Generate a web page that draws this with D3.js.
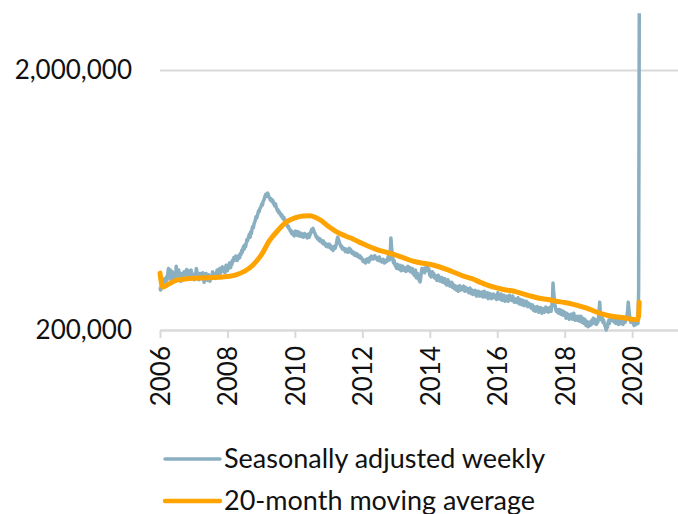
<!DOCTYPE html>
<html>
<head>
<meta charset="utf-8">
<script src="https://cdn.jsdelivr.net/npm/d3@7"></script>
<style>
body { margin: 0; background: #fff; }
svg text { font-family: Lato, "Open Sans", sans-serif; fill: #111; }
</style>
</head>
<body>
<div id="chart"></div>
<script>
// weekly initial claims, seasonally adjusted (thousands), one array per year
var claims2006 = [292,285,298,290,305,300,296,315,310,302,320,312,330,345,318,322,340,312,326,335,318,310,325,330,315,352,320,312,328,340,322,316,308,330,318,325,312,335,320,318,328,342,330,322,338,326,318,332,340,324,315,322];
var claims2007 = [318,312,330,325,345,335,320,326,312,318,330,322,315,328,332,318,305,315,322,330,312,318,310,326,318,308,315,322,316,335,325,318,330,322,316,326,340,332,328,338,345,330,342,336,350,338,346,340,332,348,355,340];
var claims2008 = [338,350,345,362,356,348,365,358,372,368,380,376,372,385,378,370,382,376,388,380,395,390,405,398,412,420,410,425,418,432,445,440,452,460,468,455,478,470,490,500,495,512,520,530,545,538,550,562,575,570,585,592];
var claims2009 = [598,610,605,625,630,642,655,665,652,660,672,664,650,645,632,640,628,622,630,615,608,600,612,598,585,575,580,565,570,558,560,548,555,540,535,542,528,530,520,515,505,498,502,490,488,480,482,470,478,465,472,460];
var claims2010 = [468,480,472,470,462,478,470,460,465,472,458,462,468,455,460,470,462,458,465,452,460,468,455,462,470,480,488,478,492,484,475,470,462,455,458,448,452,445,440,448,438,442,436,430,440,428,432,425,420,428,418,422];
var claims2011 = [420,428,415,422,410,418,412,405,415,420,412,418,430,445,455,448,440,432,425,418,420,410,415,408,412,405,400,410,402,408,398,405,412,400,408,402,395,400,392,398,388,395,390,385,392,384,388,380,386,378,382,375];
var claims2012 = [375,368,372,365,370,362,368,375,370,372,365,378,372,380,385,378,382,375,380,386,378,382,376,372,378,370,382,376,368,372,365,370,374,368,362,370,365,372,368,375,385,378,372,392,452,418,395,375,362,370,358,352];
var claims2013 = [352,345,358,348,350,342,355,345,338,348,352,345,340,348,342,336,345,338,352,345,340,348,335,342,338,345,330,338,325,332,340,318,322,330,315,325,310,306,318,335,345,340,338,345,332,340,348,342,352,338,345,340];
var claims2014 = [325,332,320,328,335,322,330,318,325,315,322,310,318,325,312,320,308,315,312,318,305,312,308,315,302,310,298,305,312,300,306,295,302,298,305,292,300,295,288,296,290,285,294,288,282,290,296,288,285,292,286,290];
var claims2015 = [295,288,282,292,285,290,282,288,278,286,290,282,276,285,280,274,282,278,284,276,270,280,274,282,276,270,278,272,280,274,268,276,282,272,268,276,270,278,264,272,268,276,270,264,272,268,275,270,266,272,268,262];
var claims2016 = [272,278,268,264,270,262,275,268,260,266,272,264,258,266,262,270,264,258,266,272,262,268,260,266,270,262,256,264,258,262,255,260,266,256,252,258,262,254,250,256,260,252,248,255,250,258,252,246,254,248,252,245];
var claims2017 = [248,242,250,244,238,246,242,236,244,240,246,238,234,242,236,244,238,232,240,236,242,234,238,245,240,236,242,234,238,244,240,236,246,258,303,280,262,250,242,236,240,234,238,232,240,236,230,238,234,228,236,232];
var claims2018 = [234,228,222,232,226,230,224,220,228,222,230,226,220,228,232,222,218,226,220,224,218,226,222,216,220,226,218,214,222,216,212,220,214,208,216,210,206,214,212,208,215,210,218,214,222,216,212,220,216,210,218,214];
var claims2019 = [220,236,256,232,225,218,222,214,218,212,208,205,200,210,205,214,218,212,220,226,222,218,224,216,220,214,218,212,216,220,214,210,218,222,216,212,218,214,210,216,220,214,218,224,228,236,256,240,226,220,214,216];
var claims2020 = [214,218,212,208,216,212,210,214,218,212,282,3307];

var weeklyYears = [2006,2007,2008,2009,2010,2011,2012,2013,2014,2015,2016,2017,2018,2019,2020];
var weeklyByYear = [claims2006,claims2007,claims2008,claims2009,claims2010,claims2011,claims2012,claims2013,claims2014,claims2015,claims2016,claims2017,claims2018,claims2019,claims2020];

// 20-month moving average (decimal year, thousands)
var maYears  = [2006.0,2006.08,2006.25,2006.5,2006.75,2007.0,2007.25,2007.5,2007.75,2008.0,2008.25,2008.5,2008.75,2009.0,2009.25,2009.5,2009.75,2010.0,2010.25,2010.45,2010.6,2010.75,2011.0,2011.25,2011.5,2011.75,2012.0,2012.25,2012.5,2012.75,2013.0,2013.25,2013.5,2013.75,2014.0,2014.25,2014.5,2014.75,2015.0,2015.25,2015.5,2015.75,2016.0,2016.25,2016.5,2016.75,2017.0,2017.25,2017.5,2017.75,2018.0,2018.25,2018.5,2018.75,2019.0,2019.25,2019.5,2019.75,2020.0,2020.15,2020.19,2020.21];
var maValues = [331,293,300,311,314,316,317,318,319,321,326,336,355,388,442,484,520,540,549,550,543,530,500,476,460,446,430,416,405,397,388,378,368,362,358,351,342,332,322,315,305,296,290,285,282,276,270,265,262,258,255,251,246,240,233,228,225,223,220,219,226,256];

var xTicks = [2006,2008,2010,2012,2014,2016,2018,2020];
var yTicks = [200000, 2000000];

var legendLabels = ["Seasonally adjusted weekly", "20-month moving average"];
var coloreBlu = "#8aafc1";
var coloreArancio = "#ffa300";

var larghezza = 678;
var altezza = 514;

var x = d3.scaleLinear()
  .domain([2006, 2021.36])
  .range([160, 678]);

var y = d3.scaleLog()
  .domain([200000, 2000000])
  .range([330, 70]);

// weekly points: position inside the year by week index
var weekly = [];
weeklyByYear.forEach(function(arr, k){
  arr.forEach(function(v, i){
    weekly.push({ t: weeklyYears[k] + i / 52, v: v * 1000 });
  });
});

var media = maYears.map(function(t, i){ return { t: t, v: maValues[i] * 1000 }; });

var svg = d3.select("#chart")
  .append("svg")
  .attr("width", larghezza)
  .attr("height", altezza);

// y gridlines + labels
var yAxis = svg.append("g")
  .attr("transform", "translate(160,0)")
  .call(d3.axisLeft(y).tickValues(yTicks).tickSize(-518).tickPadding(28)
    .tickFormat(d3.format(",")));
yAxis.select(".domain").remove();
yAxis.selectAll("line").attr("stroke", "#d9d9d9").attr("stroke-width", 2);
yAxis.selectAll("text").style("font-size", "26px").style("font-family", "Lato, sans-serif");

// x axis at the bottom
var xAxis = svg.append("g")
  .attr("transform", "translate(0,330)")
  .call(d3.axisBottom(x).tickValues(xTicks).tickSize(8).tickSizeOuter(0)
    .tickFormat(d3.format("d")));
xAxis.select(".domain").attr("stroke", "#d9d9d9").attr("stroke-width", 2);
xAxis.selectAll("line").attr("stroke", "#d9d9d9").attr("stroke-width", 2);
xAxis.selectAll("text")
  .attr("transform", "rotate(-90)")
  .attr("x", -16)
  .attr("y", 0)
  .attr("dy", "0.36em")
  .style("text-anchor", "end")
  .style("font-size", "26px")
  .style("font-family", "Lato, sans-serif");

var linea = d3.line()
  .x(function(d){ return x(d.t); })
  .y(function(d){ return y(d.v); });

svg.append("path")
  .datum(weekly)
  .attr("fill", "none")
  .attr("stroke", coloreBlu)
  .attr("stroke-width", 3.5)
  .attr("stroke-linejoin", "round")
  .attr("d", linea);

svg.append("path")
  .datum(media)
  .attr("fill", "none")
  .attr("stroke", coloreArancio)
  .attr("stroke-width", 5)
  .attr("stroke-linejoin", "round")
  .attr("stroke-linecap", "round")
  .attr("d", linea.curve(d3.curveMonotoneX));

// legenda
var legenda = svg.append("g");
var colori = [coloreBlu, coloreArancio];
legendLabels.forEach(function(lab, i){
  var yy = 459 + i * 42;
  legenda.append("line")
    .attr("x1", 165).attr("x2", 220)
    .attr("y1", yy).attr("y2", yy)
    .attr("stroke", colori[i])
    .attr("stroke-width", i == 0 ? 3.5 : 4.5)
    .attr("stroke-linecap", "round");
  legenda.append("text")
    .attr("x", 224)
    .attr("y", yy + 9)
    .style("font-size", "27px")
    .text(lab);
});
</script>
</body>
</html>
